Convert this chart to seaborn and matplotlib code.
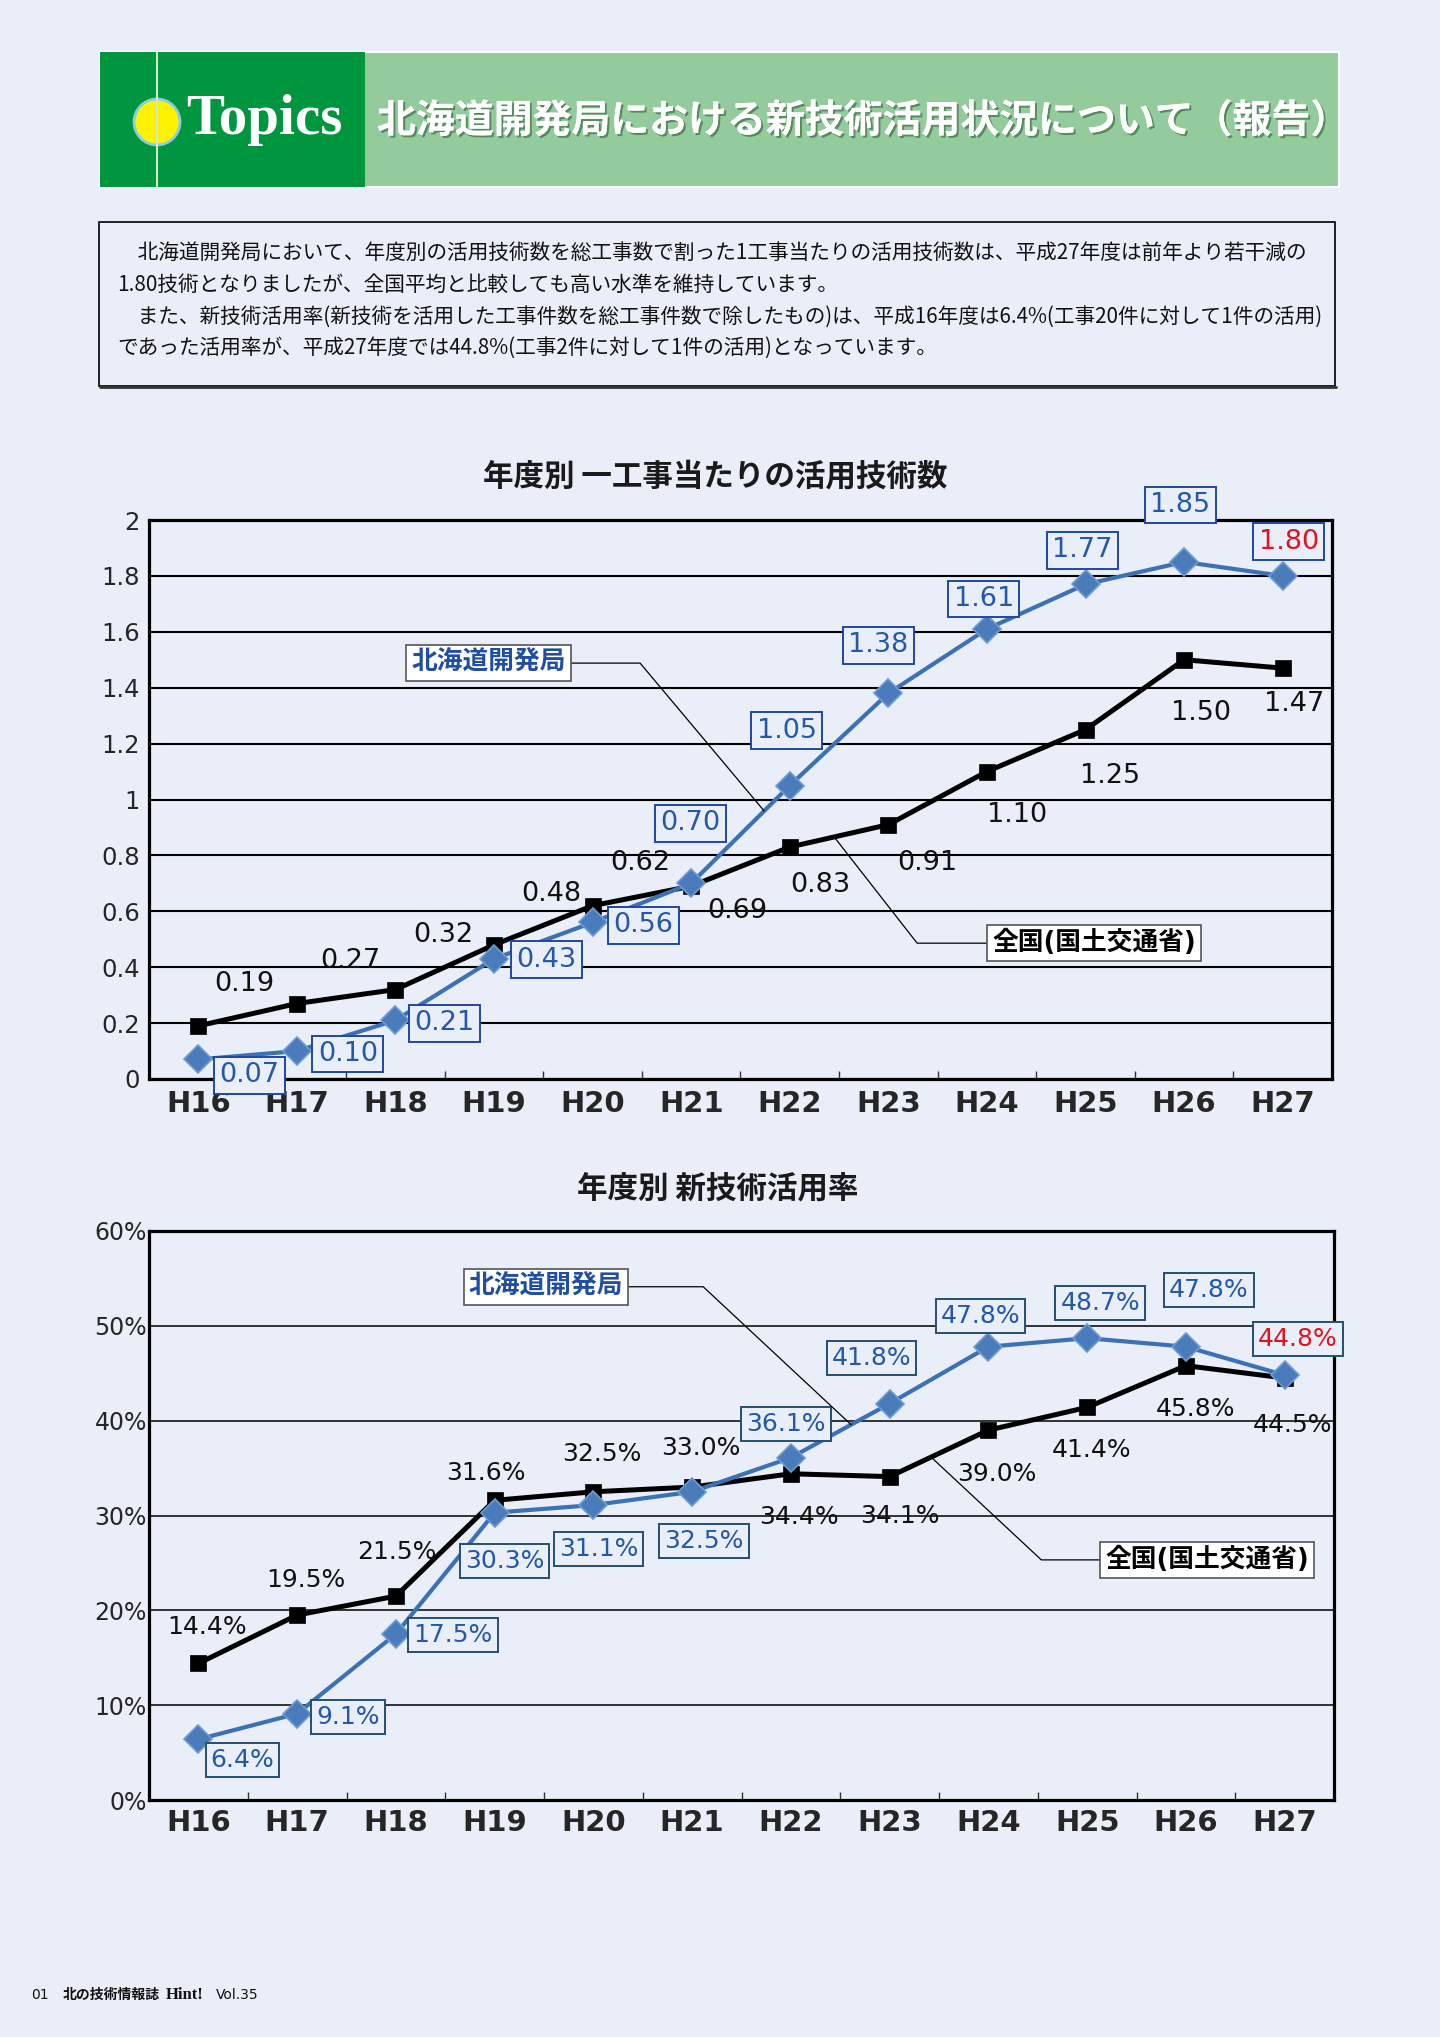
import matplotlib
matplotlib.use('Agg')
import matplotlib.pyplot as plt
import matplotlib.patheffects as pe
from matplotlib.patches import Rectangle, Circle
import numpy as np
import pandas as pd
import seaborn as sns

# --- data ---
years = ['H16', 'H17', 'H18', 'H19', 'H20', 'H21', 'H22', 'H23', 'H24', 'H25', 'H26', 'H27']
hk_tech = [0.07, 0.10, 0.21, 0.43, 0.56, 0.70, 1.05, 1.38, 1.61, 1.77, 1.85, 1.80]
nat_tech = [0.19, 0.27, 0.32, 0.48, 0.62, 0.69, 0.83, 0.91, 1.10, 1.25, 1.50, 1.47]
hk_rate = [6.4, 9.1, 17.5, 30.3, 31.1, 32.5, 36.1, 41.8, 47.8, 48.7, 47.8, 44.8]
nat_rate = [14.4, 19.5, 21.5, 31.6, 32.5, 33.0, 34.4, 34.1, 39.0, 41.4, 45.8, 44.5]

hk_name = '北海道開発局'
nat_name = '全国(国土交通省)'
title_main = '北海道開発局における新技術活用状況について（報告）'
title_tech = '年度別 一工事当たりの活用技術数'
title_rate = '年度別 新技術活用率'
intro = [
    '　北海道開発局において、年度別の活用技術数を総工事数で割った1工事当たりの活用技術数は、平成27年度は前年より若干減の',
    '1.80技術となりましたが、全国平均と比較しても高い水準を維持しています。',
    '　また、新技術活用率(新技術を活用した工事件数を総工事件数で除したもの)は、平成16年度は6.4%(工事20件に対して1件の活用)',
    'であった活用率が、平成27年度では44.8%(工事2件に対して1件の活用)となっています。',
]

# label offsets in pixels (dx right, dy up)
hk_tech_off = [(51, -16), (51, -3), (49, -3), (52, -1), (51, -3), (-1, 60), (-3, 55), (-10, 48), (-3, 30), (-3, 34), (-4, 57), (6, 34)]
nat_tech_off = [(46, 42), (53, 43), (48, 55), (57, 51), (48, 43), (46, -25), (31, -38), (39, -38), (30, -43), (25, -46), (17, -53), (11, -36)]
hk_rate_off = [(44, -21), (51, -3), (57, -1), (10, -48), (5, -44), (12, -49), (-5, 34), (-18, 46), (-8, 31), (13, 35), (23, 57), (13, 36)]
nat_rate_off = [(9, 36), (9, 35), (1, 44), (-9, 27), (8, 38), (9, 39), (8, -43), (10, -39), (8, -44), (4, -43), (10, -43), (8, -47)]

BG = '#e9eef8'
BLUE = '#3c71b6'
BLUE_TXT = '#2458a8'
RED = '#e0141e'
JP = ['Noto Sans CJK JP', 'DejaVu Sans']

sns.set_theme(style='white')
plt.rcParams['font.family'] = ['DejaVu Sans', 'Noto Sans CJK JP']
plt.rcParams['axes.unicode_minus'] = False

fig = plt.figure(figsize=(14.4, 20.37), dpi=100, facecolor=BG)

# page decoration in pixel coordinates
deco = fig.add_axes([0, 0, 1, 1], zorder=0)
deco.set_xlim(0, 1440)
deco.set_ylim(2037, 0)
deco.axis('off')
deco.add_patch(Rectangle((100, 52), 1239, 135, fc='#93cb9c', ec='white', lw=1.5))
deco.add_patch(Rectangle((100, 52), 265, 135, fc='#00963f', ec='none'))
deco.plot([157, 157], [52, 187], color='#cfe8c8', lw=1.5)
deco.add_patch(Circle((157, 122), 23, fc='#fff200', ec='#86cde6', lw=2))
deco.text(186, 120, 'Topics', family='Liberation Serif', fontsize=41, fontweight='bold',
          color='white', va='center', ha='left')
deco.text(377, 121, title_main, family=JP, fontsize=28, fontweight='bold', color='white',
          va='center', ha='left',
          path_effects=[pe.withSimplePatchShadow(offset=(1.5, -1.5), shadow_rgbFace='#3f6f47', alpha=0.7), pe.Normal()])
deco.add_patch(Rectangle((99, 222), 1236, 164, fc=BG, ec='black', lw=1.2))
deco.plot([100, 1336], [387, 387], color='#333333', lw=2)
for i, line in enumerate(intro):
    deco.text(117, 253 + i * 31.7, line, family=JP, fontsize=14.9, color='#111111', va='center', ha='left')

deco.text(31, 1995, '01', fontsize=10, va='center', color='#111111')
deco.text(63, 1995, '北の技術情報誌', family=JP, fontsize=10, fontweight='bold', va='center', color='#111111')
deco.text(166, 1995, 'Hint!', family='Liberation Serif', fontsize=12, fontweight='bold', va='center', color='#111111')
deco.text(216, 1995, 'Vol.35', fontsize=10, va='center', color='#111111')


def draw_chart(ax, hk, nat, ymax, step, fmt, hk_off, nat_off, lab_fs, box_ec, grid_lw, ytick_fs, ypad, xpad):
    ax.set_facecolor(BG)
    pos = np.arange(len(years))
    df = pd.DataFrame({'pos': pos, 'year': years, 'hk': hk, 'nat': nat})
    sns.lineplot(data=df, x='pos', y='nat', ax=ax, color='black', lw=3.6, marker='s',
                 markersize=12, markeredgecolor='black', markeredgewidth=0.5, zorder=3)
    sns.lineplot(data=df, x='pos', y='hk', ax=ax, color=BLUE, lw=3.0, marker='D',
                 markersize=14, markerfacecolor='#4a7cbc', markeredgecolor='#6f9bd2',
                 markeredgewidth=1.2, zorder=4)
    ax.set(xlabel='', ylabel='')
    ax.set_xlim(-0.5, len(years) - 0.5)
    ax.set_ylim(0, ymax)
    ax.set_xticks(pos, years)
    ax.set_xticks(pos[:-1] + 0.5, minor=True)
    ax.set_yticks(np.arange(0, ymax + step / 2, step))
    ax.set_yticklabels([fmt(v) for v in ax.get_yticks()])
    ax.tick_params(axis='x', which='major', length=0, pad=xpad, labelsize=21)
    ax.tick_params(axis='x', which='minor', bottom=True, direction='in', length=6, width=1, color='#333333')
    ax.tick_params(axis='y', length=0, pad=ypad, labelsize=ytick_fs)
    for lab in ax.get_xticklabels():
        lab.set_fontweight('bold')
    ax.grid(axis='y', color='black', lw=grid_lw)
    ax.grid(axis='x', visible=False)
    ax.set_axisbelow(True)
    for sp in ax.spines.values():
        sp.set_visible(True)
        sp.set_color('black')
        sp.set_linewidth(2.3)

    pct = step > 1
    for i, (v, off) in enumerate(zip(nat, nat_off)):
        ax.annotate(f'{v:.1f}%' if pct else f'{v:.2f}', xy=(i, v), xytext=off, textcoords='offset pixels',
                    ha='center', va='center', fontsize=lab_fs, color='#111111', zorder=5)
    for i, (v, off) in enumerate(zip(hk, hk_off)):
        last = i == len(hk) - 1
        ax.annotate(f'{v:.1f}%' if pct else f'{v:.2f}', xy=(i, v), xytext=off, textcoords='offset pixels',
                    ha='center', va='center', fontsize=lab_fs, color=RED if last else BLUE_TXT,
                    bbox=dict(boxstyle='square,pad=0.2', fc=BG, ec=box_ec, lw=1.4), zorder=6)


def series_tag(ax, text, color, data, at, text_xy, angle):
    y = np.interp(at, np.arange(len(data)), data)
    ax.annotate(text, xy=(at, y), xytext=text_xy, textcoords='axes fraction',
                ha='center', va='center', fontsize=18.5, fontweight='bold', color=color,
                bbox=dict(boxstyle='square,pad=0.2', fc='white', ec='#555555', lw=1.2),
                arrowprops=dict(arrowstyle='-', color='black', lw=0.9, shrinkA=0, shrinkB=0,
                                connectionstyle=f'angle,angleA=0,angleB={angle},rad=0'),
                zorder=7)


ax1 = fig.add_axes([149 / 1440, 1 - 1079 / 2037, 1183 / 1440, 559 / 2037], zorder=1)
draw_chart(ax1, hk_tech, nat_tech, 2.0, 0.2, lambda v: f'{v:g}', hk_tech_off, nat_tech_off,
           19.5, '#1f48a0', 1.5, 17.5, 6.5, 8)
series_tag(ax1, hk_name, '#1f4ea3', hk_tech, 5.74, (0.287, 0.744), -50)
series_tag(ax1, nat_name, 'black', nat_tech, 6.45, (0.799, 0.243), 128)
fig.text(715 / 1440, 1 - 476 / 2037, title_tech, family=JP, fontsize=22, fontweight='bold',
         ha='center', va='center', color='#1a1a1a')

ax2 = fig.add_axes([149 / 1440, 1 - 1800 / 2037, 1185 / 1440, 569 / 2037], zorder=1)
draw_chart(ax2, hk_rate, nat_rate, 60, 10, lambda v: f'{v:.0f}%', hk_rate_off, nat_rate_off,
           18, '#24506e', 1.1, 17, 1.5, 6.5)
series_tag(ax2, hk_name, '#1f4ea3', hk_rate, 6.61, (0.335, 0.902), -43)
series_tag(ax2, nat_name, 'black', nat_rate, 7.42, (0.893, 0.422), 137)
fig.text(718 / 1440, 1 - 1188 / 2037, title_rate, family=JP, fontsize=22, fontweight='bold',
         ha='center', va='center', color='#1a1a1a')

fig.savefig('out.png', dpi=100, facecolor=BG)
